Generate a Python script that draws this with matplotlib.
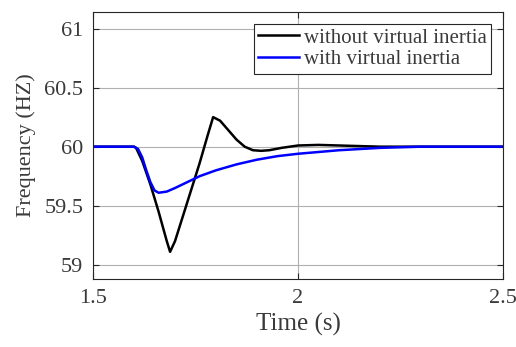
import matplotlib
matplotlib.use("Agg")
import matplotlib.pyplot as plt

# Frequency response after a load step (Hz vs s)
t_no_vi = [1.50, 1.60, 1.605, 1.62, 1.64, 1.66, 1.68, 1.688, 1.70, 1.72, 1.74,
           1.76, 1.78, 1.793, 1.81, 1.83, 1.85, 1.87, 1.89, 1.91, 1.93, 1.96,
           2.00, 2.05, 2.10, 2.20, 2.30, 2.50]
f_no_vi = [60.0, 60.0, 59.99, 59.88, 59.68, 59.45, 59.20, 59.11, 59.20, 59.42,
           59.64, 59.86, 60.10, 60.25, 60.22, 60.14, 60.06, 60.00, 59.97, 59.965,
           59.97, 59.99, 60.01, 60.015, 60.01, 60.0, 60.0, 60.0]

t_vi = [1.50, 1.60, 1.61, 1.62, 1.63, 1.64, 1.65, 1.66, 1.68, 1.70, 1.73, 1.76,
        1.80, 1.85, 1.90, 1.95, 2.00, 2.10, 2.20, 2.30, 2.50]
f_vi = [60.0, 60.0, 59.98, 59.91, 59.80, 59.70, 59.63, 59.61, 59.62, 59.65,
        59.70, 59.75, 59.80, 59.85, 59.89, 59.92, 59.94, 59.97, 59.99, 60.0, 60.0]

x_ticks = [1.5, 2, 2.5]
x_labels = ["1.5", "2", "2.5"]
y_ticks = [59, 59.5, 60, 60.5, 61]
y_labels = ["59", "59.5", "60", "60.5", "61"]

plt.rcParams["font.family"] = ["Liberation Serif", "DejaVu Serif"]

fig = plt.figure(figsize=(5.16, 3.47), dpi=100)
ax = fig.add_axes([93 / 516, 1 - 279 / 347, 410 / 516, 267 / 347])

ax.plot(t_no_vi, f_no_vi, color="black", lw=1.8, label="without virtual inertia")
ax.plot(t_vi, f_vi, color="#0000ff", lw=1.8, label="with virtual inertia")

ax.set_xlim(1.5, 2.5)
ax.set_ylim(58.88, 61.14)
ax.set_xticks(x_ticks)
ax.set_xticklabels(x_labels)
ax.set_yticks(y_ticks)
ax.set_yticklabels(y_labels)
ax.tick_params(direction="in", labelsize=16, labelcolor="#3a3a3a",
               color="#262626", length=4, top=True, right=True, pad=7)
ax.grid(True, color="#b0b0b0", lw=0.8)
for s in ax.spines.values():
    s.set_color("#262626")
    s.set_linewidth(0.8)

ax.set_xlabel("Time (s)", fontsize=18, color="#3a3a3a", labelpad=4)
ax.set_ylabel("Frequency (HZ)", fontsize=16, color="#3a3a3a", labelpad=6)

leg = ax.legend(loc="upper right", fontsize=15, fancybox=False,
                edgecolor="#262626", framealpha=1, borderpad=0.2,
                handlelength=2.0, handletextpad=0.2, labelspacing=0.1,
                borderaxespad=0.0, bbox_to_anchor=(0.97, 0.955))
leg.get_frame().set_linewidth(0.8)
for txt in leg.get_texts():
    txt.set_color("#3a3a3a")

fig.savefig("out.png", dpi=100)
